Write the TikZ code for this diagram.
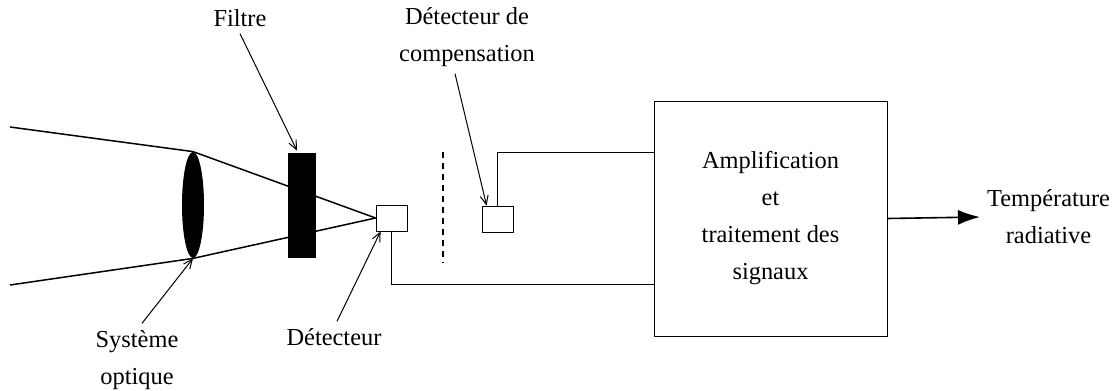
\documentclass[tikz,border=0pt]{standalone}
\usepackage{fontspec}
\setmainfont{Liberation Serif}
\usetikzlibrary{shapes.geometric, arrows.meta, positioning}

\begin{document}
\begin{tikzpicture}[
			x=0.5pt, y=-0.5pt,
			every node/.style={align=center, font=\fontsize{12.2}{18.5}\selectfont},
			lens/.style={ellipse, fill=black, inner sep=0pt, minimum width=11pt, minimum height=53pt},
			filterbox/.style={rectangle, fill=black, inner sep=0pt, minimum width=14pt, minimum height=52.5pt},
			detbox/.style={rectangle, draw, inner sep=0pt, minimum width=15.5pt, minimum height=13pt},
			procbox/.style={rectangle, draw, minimum width=116.5pt, minimum height=117.5pt},
			ray/.style={line width=0.75pt},
			wire/.style={line width=0.5pt},
			pointer/.style={-{Straight Barb[length=4.5pt, width=4pt]}, line width=0.5pt},
			output/.style={-{Latex[length=11pt, width=7.5pt]}, line width=0.8pt}
			]
			\useasboundingbox (0,0) rectangle (1120,391);
			
			% Nodes
			\coordinate (raytop) at (10,127);
			\coordinate (raybot) at (10,285);
			\node (lens) [lens] at (193,205) {};
			\node (det) [detbox] at (391.5,218) {};
			\node (comp) [detbox] at (497.5,219) {};
			\node (proc) [procbox] at (770.5,218.5) {Amplification\\et\\traitement des\\signaux};
			\node (out) [anchor=west] at (980,217) {Température\\radiative};
			
			% Rays
			\draw [ray] (raytop) -- (lens.north) -- (det.west);
			\draw [ray] (raybot) -- (lens.south) -- (det.west);
			\node (filtre) [filterbox] at (302,205.5) {};
			\draw [dash pattern=on 3pt off 2.5pt, line width=0.6pt] (443,152) -- (443,263);
			
			% Labels
			\node (filtrelbl) at (240,18) {Filtre};
			\node (complbl) at (467,37) {Détecteur de\\compensation};
			\node (optlbl) at (137,360) {Système\\optique};
			\node (detlbl) at (334,337) {Détecteur};
			
			% Connections
			\draw [wire] (det.south) |- ([yshift=26pt]proc.south west);
			\draw [wire] (comp.north) |- ([yshift=-26pt]proc.north west);
			\draw [output] (proc.east) -- (out.west);
			\draw [pointer] (filtrelbl.south) -- ([xshift=-2.5pt, yshift=1pt]filtre.north);
			\draw [pointer] ([xshift=-6pt]complbl.south) -- ([xshift=2.5pt]comp.north west);
			\draw [pointer] ([xshift=2.5pt]optlbl.north) -- (lens.south);
			\draw [pointer] ([xshift=1.5pt]detlbl.north) -- ([xshift=2.5pt]det.south west);
			
		\end{tikzpicture}
\end{document}
